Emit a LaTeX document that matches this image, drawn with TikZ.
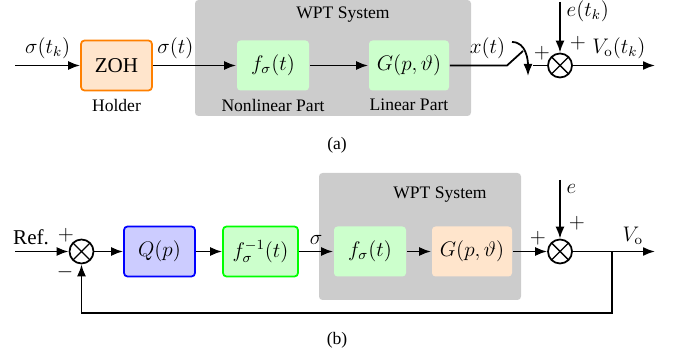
\documentclass[tikz,border=0pt]{standalone}
\usepackage[no-math]{fontspec}
\setmainfont{Liberation Serif}
\usetikzlibrary{arrows.meta}

\begin{document}
\begin{tikzpicture}[>={Latex[length=2.4mm,width=1.8mm]},line width=1pt,
    blk/.style={rectangle,rounded corners=2pt,minimum width=1.42cm,minimum height=1cm,inner sep=2pt,font=\large},
    lbl/.style={font=\large},
    sumnode/.style={circle,draw,minimum size=0.48cm,inner sep=0pt,
        path picture={\draw[line width=0.8pt] (path picture bounding box.north west) -- (path picture bounding box.south east)
            (path picture bounding box.north east) -- (path picture bounding box.south west);}},
    sys/.style={fill=gray!40,rounded corners=2pt}]
\useasboundingbox (0,0) rectangle (13.48,7.16);

% (a) sampled system
\fill[sys] (3.9,7.16) rectangle (9.42,4.84);
\node (wpta) at (6.86,6.86) {WPT System};
\coordinate (ina) at (0.3,5.85);
\node[blk,draw=orange,fill=orange!20] at (2.33,5.85) (zoh) {ZOH};
\node[blk,fill=green!20,minimum width=1.44cm] at (5.46,5.85) (fa) {$f_\sigma(t)$};
\node[blk,fill=green!20,minimum width=1.6cm] at (8.18,5.85) (ga) {$G(p,\vartheta)$};
\node[below of=zoh,node distance=0.79cm] (hold) {Holder};
\node[below of=fa,node distance=0.79cm] (nlp) {Nonlinear Part};
\node[below of=ga,node distance=0.79cm] (lp) {Linear Part};
\node[sumnode] at (11.2,5.85) (suma) {};
\coordinate (sw1) at (10.14,5.85);
\coordinate (sw2) at (10.46,6.14);
\coordinate (sw3) at (10.66,5.85);
\coordinate (swa) at (10.24,6.32);
\coordinate (swb) at (10.56,5.64);
\coordinate (ea) at (11.2,7.12);
\coordinate (outa) at (13.1,5.85);
\node[lbl] at (10.84,6.1) (pa1) {$+$};
\node[lbl] at (11.56,6.3) (pa2) {$+$};
\draw[->] (ina) -- node[lbl,above] {$\sigma(t_k)$} (zoh);
\draw[->] (zoh) -- node[lbl,above,pos=0.27] {$\sigma(t)$} (fa);
\draw[->] (fa) -- (ga);
\draw (ga) -- node[lbl,above,pos=0.66] {$x(t)$} (sw1) -- (sw2);
\draw[->] (swa) to[out=0,in=90] (swb);
\draw (sw3) -- (suma);
\draw[->] (ea) -- node[lbl,right,pos=0.18] {$e(t_k)$} (suma);
\draw[->] (suma) -- node[lbl,above,pos=0.56] {$V_{\mathrm{o}}(t_k)$} (outa);
\node at (6.74,4.26) (capa) {(a)};

% (b) closed loop
\fill[sys] (6.38,3.7) rectangle (10.42,1.16);
\node (wptb) at (8.8,3.26) {WPT System};
\coordinate (inb) at (0.3,2.13);
\node[sumnode] at (1.63,2.13) (sumb1) {};
\node[blk,draw=blue,fill=blue!20] at (3.19,2.13) (q) {$Q(p)$};
\node[blk,draw=green,fill=green!20,minimum width=1.5cm] at (5.21,2.13) (finv) {$f_\sigma^{-1}(t)$};
\node[blk,fill=green!20,minimum width=1.44cm] at (7.4,2.13) (fb) {$f_\sigma(t)$};
\node[blk,fill=orange!20,minimum width=1.6cm] at (9.44,2.13) (gb) {$G(p,\vartheta)$};
\node[sumnode] at (11.2,2.13) (sumb2) {};
\coordinate (eb) at (11.2,3.56);
\coordinate (outb) at (13.1,2.13);
\coordinate (br) at (12.24,2.13);
\coordinate (fbk) at (12.24,0.9);
\node[lbl] at (1.32,2.46) (pb1) {$+$};
\node[lbl] at (1.3,1.72) (mb1) {$-$};
\node[lbl] at (10.76,2.4) (pb2) {$+$};
\node[lbl] at (11.54,2.7) (pb3) {$+$};
\draw[->] (inb) -- node[lbl,above,pos=0.3] {Ref.} (sumb1);
\draw[->] (sumb1) -- (q);
\draw[->] (q) -- (finv);
\draw[->] (finv) -- node[lbl,above] {$\sigma$} (fb);
\draw[->] (fb) -- (gb);
\draw[->] (gb) -- (sumb2);
\draw[->] (eb) -- node[lbl,right,pos=0.15] {$e$} (sumb2);
\draw[->] (sumb2) -- node[lbl,above,pos=0.73] {$V_{\mathrm{o}}$} (outb);
\draw[->] (br) -- (fbk) -| (sumb1);
\node at (6.74,0.36) (capb) {(b)};
\end{tikzpicture}
\end{document}
